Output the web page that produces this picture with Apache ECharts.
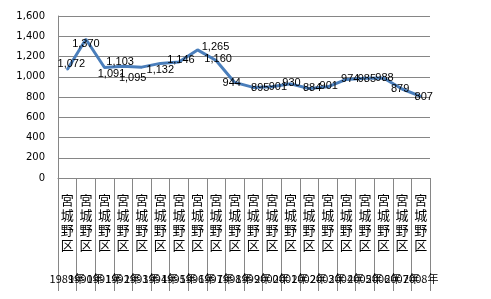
<!DOCTYPE html>
<html><head><meta charset="utf-8">
<script src="https://cdn.jsdelivr.net/npm/echarts@6/dist/echarts.min.js"></script>
<style>html,body{margin:0;padding:0;background:#fff}#c{width:491px;height:299px}</style>
</head><body><div id="c"></div>
<script>
var years = ["1989年","1990年","1991年","1992年","1993年","1994年","1995年","1996年","1997年","1998年","1999年","2000年","2001年","2002年","2003年","2004年","2005年","2006年","2007年","2008年"];
var wards = ["宮城野区","宮城野区","宮城野区","宮城野区","宮城野区","宮城野区","宮城野区","宮城野区","宮城野区","宮城野区","宮城野区","宮城野区","宮城野区","宮城野区","宮城野区","宮城野区","宮城野区","宮城野区","宮城野区","宮城野区"];
var values = [1072,1370,1091,1103,1095,1132,1146,1265,1160,944,895,901,930,884,901,974,985,988,879,807];
var yTicks = {min:0, max:1600, interval:200};
// label nudges relative to centred-on-point (style only)
var labelOffsets = [[4,-5],[0,5],[7,7],[-3,-4],[-9,11],[0,7],[2,-1],[18,-2],[2,-1],[-3,1],[7,1],[6,1],[1,0],[3,0],[1,0],[4,0],[2,1],[1,1],[-2,0],[3,1]];

function fmt(n){ return String(n).replace(/\B(?=(\d{3})+(?!\d))/g, ','); }

var chart = echarts.init(document.getElementById('c'), null, {renderer:'canvas'});
var seriesData = values.map(function(v,i){
  return {value:v, label:{offset:[labelOffsets[i][0], labelOffsets[i][1] + 6]}};
});
chart.setOption({
  animation:false,
  grid:{left:58, top:16, right:61, bottom:121, containLabel:false},
  xAxis:[{
    type:'category', data:wards, boundaryGap:true,
    axisLine:{show:true, lineStyle:{color:'#868686', width:1}},
    axisTick:{show:true, inside:false, length:113, interval:0, lineStyle:{color:'#868686', width:1}},
    axisLabel:{interval:0, margin:15, color:'#000', fontFamily:'Noto Sans CJK JP', fontSize:13, lineHeight:15,
      formatter:function(v){return v.split('').join('\n');}},
    splitLine:{show:false}
  },{
    type:'category', data:years, position:'bottom', boundaryGap:true,
    axisLine:{show:false}, axisTick:{show:false},
    axisLabel:{interval:0, margin:95, color:'#000', fontFamily:'Noto Sans CJK JP', fontSize:11, hideOverlap:false},
    splitLine:{show:false}
  }],
  yAxis:{
    type:'value', min:yTicks.min, max:yTicks.max, interval:yTicks.interval,
    axisLine:{show:true, lineStyle:{color:'#868686'}},
    axisTick:{show:false},
    axisLabel:{margin:13, color:'#000', fontFamily:'DejaVu Sans', fontSize:10,
      formatter:function(v){return fmt(v);}},
    splitLine:{show:true, lineStyle:{color:'#868686', width:1}}
  },
  series:[{
    type:'line', xAxisIndex:0, data:seriesData, symbol:'circle', symbolSize:2, showSymbol:true, smooth:false,
    itemStyle:{color:'#4A7EBB'},
    lineStyle:{color:'#4A7EBB', width:3},
    label:{show:true, position:'top', distance:0, color:'#000', fontFamily:'Liberation Sans', fontSize:11,
      formatter:function(p){ return fmt(p.value); }}
  }]
});
</script></body></html>
